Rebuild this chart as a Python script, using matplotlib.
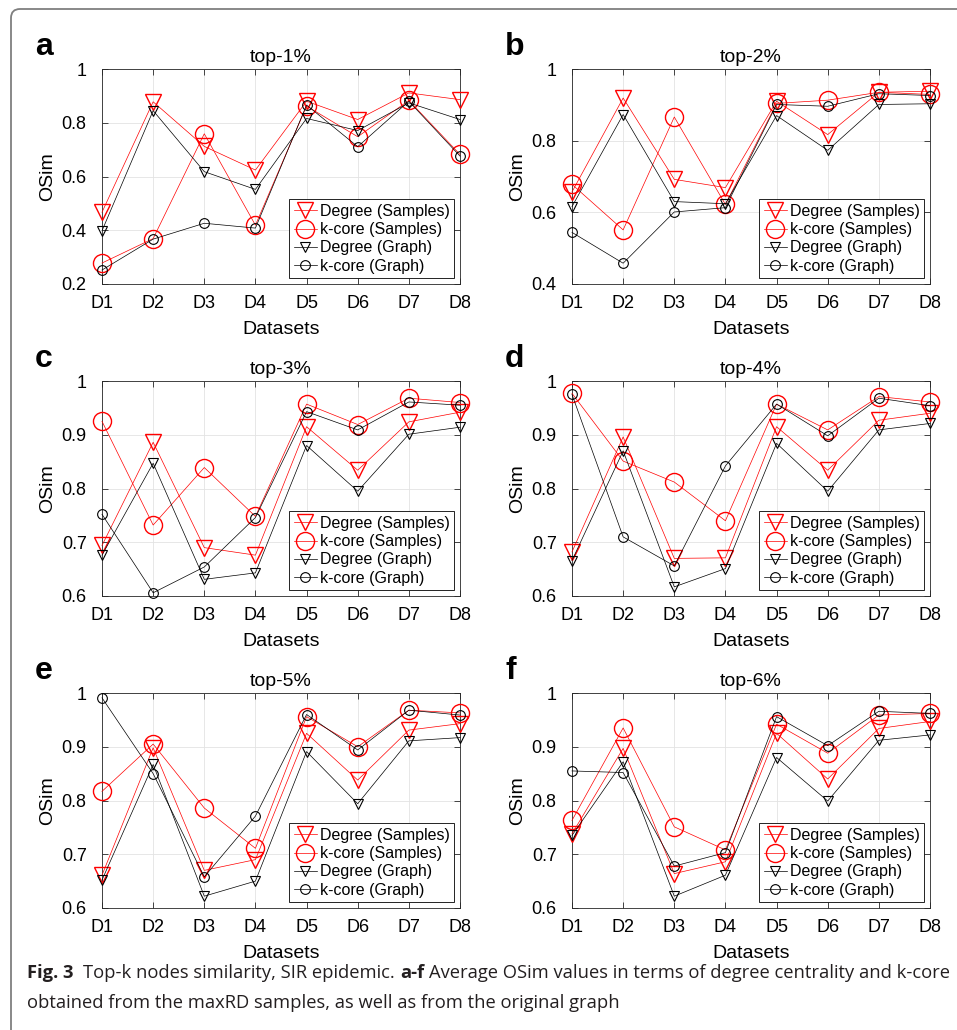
import matplotlib
matplotlib.use('Agg')
import matplotlib.pyplot as plt
from matplotlib.patches import FancyBboxPatch
from matplotlib.transforms import IdentityTransform
from matplotlib.ticker import FixedLocator, FormatStrFormatter

plt.rcParams['font.family'] = 'Liberation Sans'

datasets = ['D1', 'D2', 'D3', 'D4', 'D5', 'D6', 'D7', 'D8']
titles = ['top-1%', 'top-2%', 'top-3%', 'top-4%', 'top-5%', 'top-6%']
letters = ['a', 'b', 'c', 'd', 'e', 'f']
labels = ['Degree (Samples)', 'k-core (Samples)', 'Degree (Graph)', 'k-core (Graph)']

# panel a (top-1%)
deg_s_a = [0.467, 0.878, 0.712, 0.624, 0.880, 0.812, 0.911, 0.886]
kc_s_a = [0.278, 0.369, 0.759, 0.419, 0.862, 0.748, 0.883, 0.682]
deg_g_a = [0.398, 0.845, 0.618, 0.552, 0.816, 0.771, 0.874, 0.812]
kc_g_a = [0.252, 0.367, 0.426, 0.408, 0.866, 0.711, 0.880, 0.676]
# panel b (top-2%)
deg_s_b = [0.657, 0.919, 0.692, 0.669, 0.910, 0.817, 0.935, 0.938]
kc_s_b = [0.678, 0.551, 0.866, 0.622, 0.904, 0.913, 0.935, 0.929]
deg_g_b = [0.616, 0.873, 0.630, 0.624, 0.870, 0.773, 0.901, 0.903]
kc_g_b = [0.544, 0.458, 0.601, 0.613, 0.901, 0.896, 0.931, 0.926]
# panel c (top-3%)
deg_s_c = [0.694, 0.886, 0.690, 0.676, 0.915, 0.834, 0.924, 0.942]
kc_s_c = [0.925, 0.732, 0.839, 0.748, 0.957, 0.919, 0.968, 0.960]
deg_g_c = [0.676, 0.847, 0.631, 0.643, 0.880, 0.795, 0.901, 0.914]
kc_g_c = [0.752, 0.606, 0.654, 0.746, 0.943, 0.909, 0.961, 0.955]
# panel d (top-4%)
deg_s_d = [0.682, 0.896, 0.670, 0.671, 0.915, 0.834, 0.927, 0.940]
kc_s_d = [0.977, 0.851, 0.812, 0.740, 0.957, 0.909, 0.971, 0.961]
deg_g_d = [0.666, 0.870, 0.617, 0.651, 0.884, 0.795, 0.909, 0.921]
kc_g_d = [0.975, 0.710, 0.656, 0.842, 0.957, 0.898, 0.968, 0.954]
# panel e (top-5%)
deg_s_e = [0.661, 0.898, 0.670, 0.690, 0.925, 0.838, 0.931, 0.943]
kc_s_e = [0.817, 0.905, 0.786, 0.711, 0.956, 0.900, 0.968, 0.963]
deg_g_e = [0.652, 0.867, 0.622, 0.650, 0.891, 0.794, 0.911, 0.917]
kc_g_e = [0.991, 0.850, 0.658, 0.771, 0.960, 0.894, 0.968, 0.959]
# panel f (top-6%)
deg_s_f = [0.738, 0.897, 0.664, 0.686, 0.925, 0.840, 0.934, 0.947]
kc_s_f = [0.763, 0.935, 0.751, 0.708, 0.942, 0.888, 0.959, 0.962]
deg_g_f = [0.735, 0.872, 0.622, 0.661, 0.880, 0.799, 0.912, 0.922]
kc_g_f = [0.855, 0.852, 0.678, 0.703, 0.956, 0.902, 0.966, 0.962]

ticks_a = [0.2, 0.4, 0.6, 0.8, 1]
ticks_b = [0.4, 0.6, 0.8, 1]
ticks_rest = [0.6, 0.7, 0.8, 0.9, 1]

panels = [
    (deg_s_a, kc_s_a, deg_g_a, kc_g_a, ticks_a),
    (deg_s_b, kc_s_b, deg_g_b, kc_g_b, ticks_b),
    (deg_s_c, kc_s_c, deg_g_c, kc_g_c, ticks_rest),
    (deg_s_d, kc_s_d, deg_g_d, kc_g_d, ticks_rest),
    (deg_s_e, kc_s_e, deg_g_e, kc_g_e, ticks_rest),
    (deg_s_f, kc_s_f, deg_g_f, kc_g_f, ticks_rest),
]

W, H = 957, 1030
fig = plt.figure(figsize=(W / 100, H / 100), dpi=100)

lefts = [102, 572]
tops = [69, 381, 693]
aw, ah = 358, 215

styles = [
    dict(color='red', marker='v', ms=12, mew=1.0),
    dict(color='red', marker='o', ms=13, mew=1.0),
    dict(color='black', marker='v', ms=7, mew=0.8),
    dict(color='black', marker='o', ms=7, mew=0.8),
]

x = list(range(1, len(datasets) + 1))

for i, (ds, ks, dg, kg, yt) in enumerate(panels):
    left = lefts[i % 2]
    top = tops[i // 2]
    ax = fig.add_axes([left / W, 1 - (top + ah) / H, aw / W, ah / H])
    for vals, st, lab in zip([ds, ks, dg, kg], styles, labels):
        ax.plot(x, vals, color=st['color'], lw=0.5, marker=st['marker'],
                ms=st['ms'], mew=st['mew'], mfc='none', mec=st['color'],
                label=lab, clip_on=False, zorder=3)
    ax.set_xlim(1, 8)
    ax.set_ylim(yt[0], 1)
    ax.set_xticks(x)
    ax.set_xticklabels(datasets)
    ax.yaxis.set_major_locator(FixedLocator(yt))
    ax.yaxis.set_major_formatter(FormatStrFormatter('%g'))
    ax.grid(True, color='#e3e3e3', lw=0.6)
    ax.set_axisbelow(True)
    ax.tick_params(direction='in', length=4, width=0.5, top=True, right=True,
                   labelsize=13, colors='black')
    ax.tick_params(axis='y', pad=11)
    ax.tick_params(axis='x', pad=8)
    for sp in ax.spines.values():
        sp.set_linewidth(0.6)
        sp.set_color('#262626')
    ax.set_title(titles[i], fontsize=14, pad=5)
    ax.set_xlabel('Datasets', fontsize=14)
    ax.set_ylabel('OSim', fontsize=14)
    ax.xaxis.set_label_coords(0.5, -0.17)
    ax.yaxis.set_label_coords(-0.128, 0.5)
    leg = ax.legend(loc='lower right', fontsize=11.5, handlelength=1.4,
                    handletextpad=0.2, labelspacing=0.2, borderpad=0.3,
                    borderaxespad=0.35, fancybox=False, framealpha=1)
    leg.get_frame().set_edgecolor('black')
    leg.get_frame().set_linewidth(0.6)
    fig.text((left - 67) / W, 1 - (top - 14) / H, letters[i], fontsize=23,
             fontweight='bold', va='baseline', ha='left')

# outer frame of the figure box
frame = FancyBboxPatch((11, -40), W + 40, H - 9 + 40,
                       boxstyle='round,pad=0,rounding_size=9',
                       transform=IdentityTransform(), fc='none',
                       ec='#7f7f7f', lw=1.3, clip_on=False)
fig.add_artist(frame)

# caption
cap_family = 'Open Sans'
renderer = fig.canvas.get_renderer()
line1 = [('Fig. 3', True, 2.0), ('Top-k nodes similarity, SIR epidemic.', False, 1.0),
         ('a-f', True, 1.0),
         ('Average OSim values in terms of degree centrality and k-core', False, 0)]
line2 = [('obtained from the maxRD samples, as well as from the original graph', False, 0)]


def run_width(parts, size):
    total = 0
    for txt, bold, gap in parts:
        t = fig.text(0, 0, txt, fontsize=size, family=cap_family,
                     fontweight='bold' if bold else 'normal')
        total += t.get_window_extent(renderer).width + gap * 0.27 * size * 100 / 72
        t.remove()
    return total


def draw_runs(x0, y0, parts, size):
    xp = x0
    for txt, bold, gap in parts:
        t = fig.text(xp / W, y0 / H, txt, fontsize=size, family=cap_family,
                     fontweight='bold' if bold else 'normal', va='baseline',
                     ha='left', color='#231f20')
        xp += t.get_window_extent(renderer).width + gap * 0.27 * size * 100 / 72


size = 13
size = size * 918 / run_width(line1, size)
draw_runs(27, H - 978, line1, size)
draw_runs(27, H - 1008, line2, size)

fig.savefig('out.png', dpi=100)
